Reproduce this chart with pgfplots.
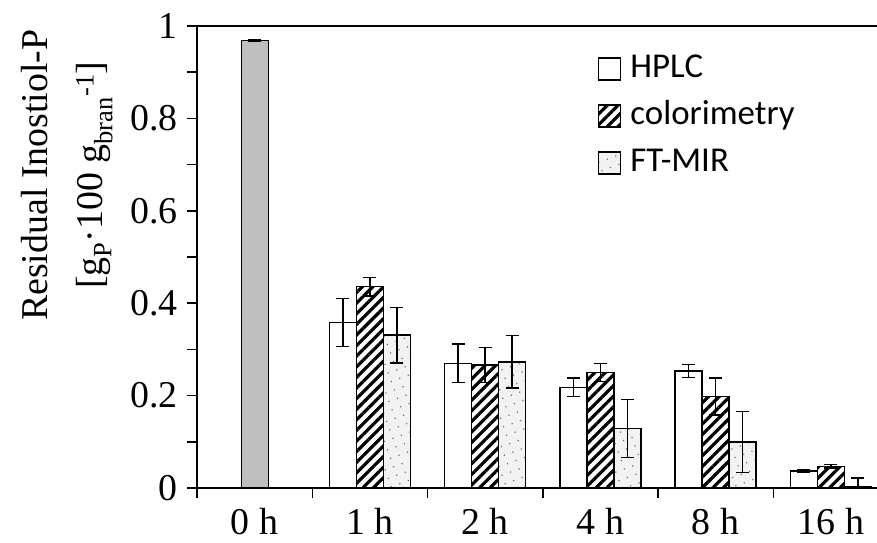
\documentclass[border=0pt]{standalone}
\usepackage{pgfplots}
\pgfplotsset{compat=1.18}
\usepackage{fontspec}
\setmainfont{Liberation Serif}
\newfontfamily\calibri{Carlito}
\usetikzlibrary{patterns.meta}
\definecolor{barg}{RGB}{191,191,191}
\begin{document}
\begin{tikzpicture}
\path[use as bounding box] (-197bp,-55bp) rectangle (680bp,488bp);
\begin{axis}[
  scale only axis=true,
  width=680bp, height=462bp,
  xmin=-0.5, xmax=5.4, ymin=0, ymax=1,
  axis x line*=box, axis y line*=left,
  axis line style={line width=2.5bp, -},
  xtick pos=bottom, ytick pos=left,
  tick align=outside,
  tick style={line width=1.5bp, black},
  major tick length=10bp, minor tick length=10bp,
  xtick={-0.5,0.5,1.5,2.5,3.5,4.5},
  xticklabels={},
  extra x ticks={0,1,2,3,4,5},
  extra x tick labels={0 h,1 h,2 h,4 h,8 h,16 h},
  extra x tick style={major tick length=0pt},
  ytick={0,0.2,0.4,0.6,0.8,1},
  minor y tick num=1,
  /pgf/number format/assume math mode=true,
  tick label style={font=\fontsize{38}{40}\selectfont},
  yticklabel style={xshift=-6bp},
  xticklabel style={yshift=-17bp},
  ylabel={Residual Inostiol-P\\{}[g\textsubscript{P}·100 g\textsubscript{bran}\textsuperscript{-1}]},
  ylabel style={at={(axis description cs:-0.191,0.677)}, anchor=center, align=center, font=\fontsize{38}{55}\selectfont},
  legend style={at={(axis description cs:0.585,0.952)}, anchor=north west, draw=none, fill=none,
    font=\calibri\fontsize{35}{38}\selectfont, row sep=10bp,
    nodes={inner sep=2bp, text height=25bp, text depth=8bp},
    /tikz/every odd column/.append style={column sep=7bp}},
  legend cell align=left,
  legend image code/.code={\draw[#1] (0bp,-11bp) rectangle (22bp,11bp);},
  error bars/error bar style={line width=1.5bp, black},
  error bars/error mark options={rotate=90, mark size=6.5bp, line width=1.5bp, black},
]
\addplot[ybar, bar width=27bp, bar shift=0bp, draw=black, line width=1.5bp, fill=white,
  error bars/.cd, y dir=both, y explicit]
  coordinates {(0.7657,0.358) +- (0,0.052) (1.7657,0.270) +- (0,0.042) (2.7657,0.218) +- (0,0.020) (3.7657,0.253) +- (0,0.014) (4.7657,0.037) +- (0,0.002)};
\addlegendentry{HPLC}
\addplot[ybar, bar width=27bp, bar shift=0bp, draw=black, line width=1.5bp,
  preaction={fill=white}, pattern={Lines[angle=45, distance=7.5bp, line width=3.2bp]}, pattern color=black,
  error bars/.cd, y dir=both, y explicit]
  coordinates {(1,0.436) +- (0,0.020) (2,0.266) +- (0,0.038) (3,0.250) +- (0,0.020) (4,0.198) +- (0,0.040) (5,0.047) +- (0,0.004)};
\addlegendentry{colorimetry}
\addplot[ybar, bar width=27bp, bar shift=0bp, draw=black, line width=1.5bp,
  preaction={fill=black!5}, pattern={Dots[distance=9bp, radius=0.8bp, angle=20]}, pattern color=black!60,
  error bars/.cd, y dir=both, y explicit]
  coordinates {(1.2343,0.331) +- (0,0.060) (2.2343,0.273) +- (0,0.057) (3.2343,0.129) +- (0,0.063) (4.2343,0.100) +- (0,0.066) (5.2343,0.003) +- (0,0.019)};
\addlegendentry{FT-MIR}
\addplot[ybar, bar width=27bp, bar shift=0bp, draw=black, line width=1.2bp, fill=barg, forget plot,
  error bars/.cd, y dir=both, y explicit]
  coordinates {(0,0.968) +- (0,0.002)};
\end{axis}
\end{tikzpicture}
\end{document}
